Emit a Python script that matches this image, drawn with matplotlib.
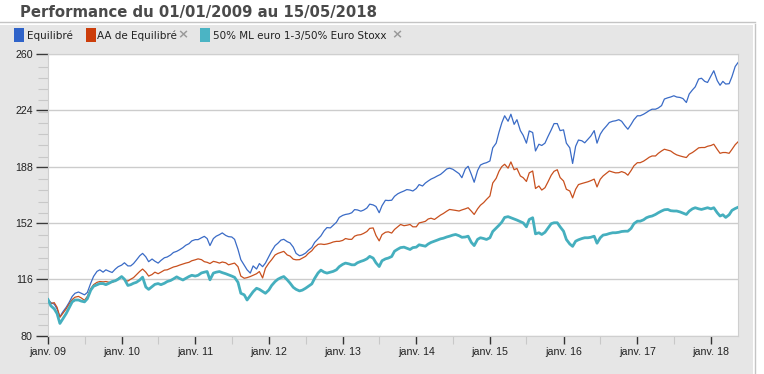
import matplotlib
matplotlib.use("Agg")
import matplotlib.pyplot as plt
import matplotlib.dates as mdates
from matplotlib.patches import Rectangle
from matplotlib.lines import Line2D
from matplotlib.ticker import MultipleLocator, FixedLocator
import pandas as pd

# ---------------- data ----------------
title = "Performance du 01/01/2009 au 15/05/2018"
series_names = ["Equilibré", "AA de Equilibré", "50% ML euro 1-3/50% Euro Stoxx"]
start_date = "2009-01-01"
end_date = "2018-05-15"
dates = pd.date_range(start_date, end_date, freq="SMS")  # 1st and 15th of each month

equilibre = [
    # 2009
    103.1, 101, 100, 97, 92, 95, 98, 101, 105, 107, 107.8, 107, 106, 107.5, 113.5, 117.8, 121, 122, 120.5, 122, 121, 120.3, 122.5, 124,
    # 2010
    125, 126.5, 124.5, 124.5, 126, 128.2, 131, 132.5, 130.3, 127.2, 128.9, 127.5, 126.3, 128, 129.7, 130.2, 131.5, 133.1, 133.8, 134.8, 136.2, 137.7, 138.7, 140.5,
    # 2011
    141.3, 141.3, 142.5, 143.4, 142, 137.5, 142, 143.5, 144.5, 145.6, 144, 143.2, 143, 141.5, 135, 128.5, 125, 122, 119.9, 124.5, 122.5, 126, 124, 126.3,
    # 2012
    130.6, 134, 137.5, 139, 141, 141.5, 140, 139.2, 136.5, 132.5, 131, 131.5, 132.7, 134.5, 136.3, 139.5, 141.8, 143.7, 147, 149, 148.8, 150.5, 152.4, 155.5,
    # 2013
    156.8, 157.4, 157.8, 158.5, 160.5, 160.3, 159.5, 160.2, 161.5, 164, 163.5, 162.5, 158.5, 163, 166.5, 166.3, 166.5, 169, 170.6, 171.5, 172.4, 173.3, 173, 172.4,
    # 2014
    174, 176.5, 175.6, 177.5, 178.8, 180, 181, 182, 183, 184.5, 186.5, 187, 186.3, 185, 183.5, 180.9, 186.5, 188.2, 183, 178, 185.5, 189, 190, 190.5,
    # 2015
    191.6, 200, 203, 210, 216, 220.5, 217, 221.5, 215, 218, 211, 208, 203, 210.8, 209.8, 198, 202.3, 201.5, 203, 207, 211.5, 215.5, 215.5, 211,
    # 2016
    211.5, 203, 200, 190, 201, 205, 204.5, 203.2, 205.5, 207.5, 211, 203, 208.7, 211.5, 214, 216.2, 217, 217.3, 218, 217, 214, 211.9, 215, 218,
    # 2017
    220.5, 220.5, 221.5, 222.6, 223.8, 224.7, 224.7, 225.5, 227, 231.2, 232, 232.5, 233.3, 232.5, 232.2, 231.5, 229, 234.4, 237, 239, 244, 244.5, 242.5, 241.8,
    # 2018
    246, 249.3, 243, 240, 242.5, 240.8, 241, 245.5, 252, 254.5,
]

aa_equilibre = [
    # 2009
    103, 100.5, 101, 98, 91.6, 94, 97, 100, 103, 104.5, 105, 104, 102.5, 105, 110, 112.5, 114, 114.5, 114.3, 114.5, 114, 113.9, 115, 116.5,
    # 2010
    117.7, 115.5, 114.8, 116, 117, 118.8, 121, 122.5, 120.5, 118, 119, 120.5, 119.5, 120.5, 121.8, 122, 123, 123.8, 124.3, 125, 125.7, 126.3, 126.8, 127.8,
    # 2011
    128.4, 129, 128.5, 127.2, 126.8, 126, 127.4, 127, 126.3, 127, 126.5, 125.2, 125.8, 126.3, 124, 118, 116.6, 117, 117.7, 118.5, 119.5, 120.9, 116.8, 123,
    # 2012
    126.3, 128.5, 131.5, 132.5, 133.2, 133.8, 131.5, 130.8, 128.8, 128.4, 128.5, 129.5, 130.6, 132.5, 134.2, 136.5, 138.3, 138.5, 138.2, 138.5, 139.1, 139.8, 140.2, 140.2,
    # 2013
    140.8, 142, 141.5, 141.5, 143.5, 144.2, 144.5, 145.3, 146.5, 148.5, 148.8, 144, 140.5, 144.5, 146, 146.3, 145.5, 147.8, 149.5, 151, 150.2, 150.5, 151, 149.5,
    # 2014
    149.5, 152, 152.5, 153, 154.5, 155, 154.2, 155.5, 157, 158, 159.5, 160.6, 160.3, 160, 159.6, 160.3, 161, 161.7, 159.5, 157.4, 161, 163.3, 165, 167,
    # 2015
    169.2, 177.5, 180.5, 185, 188, 189.5, 187, 191, 186, 186.8, 182, 180.9, 178.5, 184, 185.2, 174, 175.6, 173, 174.5, 178, 182.5, 185, 186, 181,
    # 2016
    178.8, 173.5, 172.4, 168, 173.5, 176.5, 177.2, 177.7, 178.3, 179, 180, 175, 179.9, 182, 183.8, 185.2, 184.5, 184, 184.1, 184.8, 184, 182.5, 185.5, 188.5,
    # 2017
    190.5, 190.5, 191.5, 192.7, 194, 194.8, 194.8, 196.5, 198, 199.1, 198.5, 198, 196.5, 195.5, 194.8, 194.3, 193.8, 195.9, 197, 198.3, 200, 200.2, 200.2, 201,
    # 2018
    201.5, 202.3, 199, 196.5, 197, 197, 196.5, 199, 202, 203.8,
]

ml_stoxx = [
    # 2009
    103, 99, 97, 94, 87.7, 90.5, 94, 97.5, 101.5, 102.7, 102.7, 102, 101.5, 103.5, 109, 111.5, 112.4, 113.2, 113.2, 112.5, 113.5, 114.5, 115, 116,
    # 2010
    117.7, 116, 112, 112.5, 113.4, 114, 115.5, 117.3, 111, 109.5, 111.3, 112.7, 113.2, 112.5, 113.4, 114.5, 115.2, 116.2, 117.5, 116.5, 115.5, 116.5, 117.7, 118.5,
    # 2011
    118, 118.5, 120, 120.5, 120.9, 115.6, 119.9, 120.5, 120.9, 120.2, 119.5, 118.8, 118, 117.2, 114, 107, 106, 102.7, 105.5, 108, 110.2, 109.5, 108.2, 107,
    # 2012
    109.1, 112, 114.5, 116, 117, 117.7, 115.6, 113.5, 110.8, 109.5, 108.5, 109, 110.2, 111.5, 113, 116.5, 120, 121.8, 120.5, 119.9, 120.5, 121, 122, 124,
    # 2013
    125.5, 126.3, 125.8, 125.2, 125.2, 126.5, 127.4, 128, 129, 130.6, 129.5, 126.5, 124.1, 127.8, 129, 129.5, 130.5, 133.9, 135.2, 136.2, 136.5, 135.8, 135, 136.2,
    # 2014
    136.5, 138, 137.5, 137.1, 138.5, 139.5, 140.3, 141, 141.8, 142.2, 143, 143.5, 144.2, 144.6, 143.8, 142.8, 143, 143.5, 139.5, 137.5, 141.5, 142.5, 142, 141.4,
    # 2015
    142.5, 146.5, 148.7, 150.5, 152.5, 155.5, 156, 155.3, 154.5, 153.8, 152.8, 152, 149.5, 154.2, 155.3, 145, 145.7, 144.6, 146, 148.5, 151.5, 152.1, 152.1, 149.5,
    # 2016
    146.7, 141.4, 138.5, 137, 140.3, 141.2, 142, 142.5, 142.5, 142.8, 143.5, 139, 142.5, 144.2, 144.6, 145.2, 145.7, 145.7, 146, 146.5, 146.7, 146.7, 148.5, 151.5,
    # 2017
    153.1, 153.1, 154, 155.3, 156, 156.4, 157.4, 158.5, 159.6, 160.4, 160.6, 159.8, 159.6, 159.6, 159, 158.3, 157.4, 159.5, 161, 161.7, 161, 160.6, 161.2, 161.7,
    # 2018
    161, 161.7, 158.5, 156.4, 157.2, 155.5, 157.2, 160, 161.2, 162,
]

y_ticks = [80, 116, 152, 188, 224, 260]
x_tick_years = list(range(2009, 2019))
x_tick_labels = ["janv. 09", "janv. 10", "janv. 11", "janv. 12", "janv. 13",
                 "janv. 14", "janv. 15", "janv. 16", "janv. 17", "janv. 18"]

# ---------------- style ----------------
colors = ["#3a6bc6", "#c8501e", "#45afbe"]
legend_colors = ["#2f63c9", "#cc3d0a", "#4bb4c4"]
widths = [0.9, 0.9, 2.0]

W, H = 764, 374
fig = plt.figure(figsize=(W / 100, H / 100), dpi=100, facecolor="white")


def fx(px):
    return px / W


def fy(py):
    return 1 - py / H


# gray panel (behind the axes)
fig.patches.append(Rectangle((0, 0), fx(753), fy(25), transform=fig.transFigure,
                             facecolor="#e6e6e6", edgecolor="none", zorder=-2))
fig.lines.append(Line2D([fx(754.5), fx(754.5)], [0, fy(24)], transform=fig.transFigure,
                        color="#c4c4c4", lw=1.0, zorder=-1))
fig.lines.append(Line2D([0, fx(755)], [fy(22), fy(22)], transform=fig.transFigure,
                        color="#c4c4c4", lw=1.0, zorder=-1))

# title
fig.text(fx(20), fy(12), title, fontsize=10.7, fontweight="bold", color="#4a4a4a",
         ha="left", va="center", family="DejaVu Sans")

# legend
leg_items = [(14, 27, None), (86, 97, 177), (200, 213, 391)]
for (sq_x, tx_x, x_x), name, lc in zip(leg_items, series_names, legend_colors):
    fig.patches.append(Rectangle((fx(sq_x), fy(42)), fx(10), 14 / H, transform=fig.transFigure,
                                 facecolor=lc, edgecolor="none", zorder=2))
    fig.text(fx(tx_x), fy(35.5), name, fontsize=7.5, color="#222222", ha="left", va="center",
             family="DejaVu Sans")
    if x_x is not None:
        fig.text(fx(x_x), fy(35), "×", fontsize=9.5, color="#9a9a9a", ha="left", va="center",
                 family="DejaVu Sans", fontweight="bold")

# axes
ax = fig.add_axes([fx(48), fy(335.5), fx(738) - fx(48), fy(54) - fy(335.5)])
ax.set_zorder(1)
ax.set_facecolor("white")
for s in ax.spines.values():
    s.set_color("#cfcfcf")
    s.set_linewidth(0.8)

for vals, c, lw, z in zip([equilibre, aa_equilibre, ml_stoxx], colors, widths, [3, 4, 5]):
    ax.plot(dates, vals, color=c, lw=lw, zorder=z, solid_joinstyle="round")

ax.set_xlim(pd.Timestamp(start_date), pd.Timestamp(end_date))
ax.set_ylim(y_ticks[0], y_ticks[-1])

ax.yaxis.set_major_locator(FixedLocator(y_ticks))
ax.yaxis.set_minor_locator(MultipleLocator(7.2))
ax.grid(axis="y", which="major", color="#cccccc", lw=1.0, zorder=1)
ax.set_axisbelow(True)

xt = [mdates.date2num(pd.Timestamp(f"{y}-01-01")) for y in x_tick_years]
xm = [mdates.date2num(pd.Timestamp(f"{y}-07-01")) for y in x_tick_years]
ax.set_xticks(xt)
ax.set_xticklabels(x_tick_labels)
ax.xaxis.set_minor_locator(FixedLocator(xm))

ax.tick_params(axis="y", which="major", direction="out", length=9, width=1.0, color="#333333",
               labelsize=7.7, labelcolor="#222222", pad=2)
ax.tick_params(axis="y", which="minor", direction="out", length=7, width=0.8, color="#c8c8c8")
ax.tick_params(axis="x", which="major", direction="out", length=6, width=1.0, color="#333333",
               labelsize=7.7, labelcolor="#222222", pad=2.5)
ax.tick_params(axis="x", which="minor", direction="out", length=6, width=0.8, color="#c8c8c8")
for lab in ax.get_xticklabels() + ax.get_yticklabels():
    lab.set_family("Liberation Sans")

fig.savefig("out.png", dpi=100, facecolor="white")
